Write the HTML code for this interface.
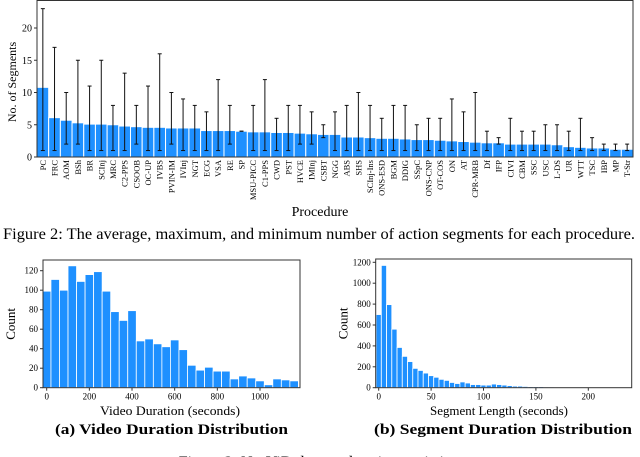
<!DOCTYPE html>
<html><head><meta charset="utf-8"><style>
html,body{margin:0;padding:0;background:#fff;}
svg{display:block;font-family:"Liberation Serif",serif;}
</style></head><body>
<svg id="fig" width="640" height="457" viewBox="0 0 640 457">
<g id="top"></g>
<text x="320" y="216" font-size="14" text-anchor="middle">Procedure</text>
<text x="3" y="239" font-size="16" textLength="632" lengthAdjust="spacingAndGlyphs">Figure 2: The average, maximum, and minimum number of action segments for each procedure.</text>
<g id="bl"></g>
<g id="br"></g>
<text x="100" y="415" font-size="13" textLength="140" lengthAdjust="spacingAndGlyphs">Video Duration (seconds)</text>
<text x="55" y="434" font-size="14.5" font-weight="bold" textLength="233" lengthAdjust="spacingAndGlyphs">(a) Video Duration Distribution</text>
<text x="430" y="415" font-size="13" textLength="138" lengthAdjust="spacingAndGlyphs">Segment Length (seconds)</text>
<text x="374" y="434" font-size="14.5" font-weight="bold" textLength="258" lengthAdjust="spacingAndGlyphs">(b) Segment Duration Distribution</text>
<text x="320" y="467" font-size="16" text-anchor="middle">Figure 3: NurViD dataset duration statistics.</text>
</svg>
<script>
const procedures=["PC","FRC","AOM","BSh","BR","SCInj","MRC","C2-PPS","CSOOB","OC-UP","IVBS","PVIN-IM","IVInj","NGT","ECG","VSA","RE","SP","MSU-PICC","C1-PPS","CWD","PST","HVCE","IMInj","CSBT","NGG","ABS","SHS","SCInj-Ins","ONS-ESD","BGM","DDIG","SSpC","ONS-CNP","OT-COS","ON","AT","CPR-MRB","Df","IFP","CIVI","CBM","SSC","USC","L-DS","UR","WTT","TSC","IBP","MP","T-Str"];
const meanSegments=[10.8,6.1,5.7,5.3,5.1,5.1,5.0,4.8,4.7,4.6,4.6,4.5,4.5,4.5,4.1,4.1,4.1,4.0,3.9,3.9,3.8,3.8,3.7,3.6,3.5,3.5,3.1,3.1,3.0,2.9,2.9,2.8,2.7,2.7,2.6,2.5,2.4,2.3,2.2,2.2,2.0,2.0,2.0,2.0,1.9,1.6,1.5,1.4,1.4,1.2,1.2];
const maxSegments=[23,17,10,15,11,15,8,13,8,11,16,10,9,8,7,12,8,4,8,12,6,8,8,7,5,7,8,10,8,6,8,8,5,6,6,9,7,10,4,3,6,4,4,5,5,4,6,3,2,2,2];
const minSegments=[1,1,2,2,1,1,1,1,2,1,1,2,1,1,1,1,2,4,1,1,1,1,2,2,3,1,1,1,1,1,1,1,1,1,1,1,1,1,1,2,1,1,1,1,1,1,1,1,1,1,1];
const topTicks=[0,5,10,15,20];
const videoBins=[0,40,80,120,160,200,240,280,320,360,400,440,480,520,560,600,640,680,720,760,800,840,880,920,960,1000,1040,1080,1120,1160];
const videoCounts=[99,111,100,125,109,116,119,99,78,69,79,48,50,45,42,49,39,23,18,21,17,17,9,12,10,7,3,9,8,7];
const videoXTicks=[0,200,400,600,800,1000];
const videoYTicks=[0,20,40,60,80,100,120];
const segBinWidth=5;
const segCounts=[700,1170,795,560,385,300,250,185,165,140,115,100,80,70,50,40,55,45,30,30,25,25,35,30,25,20,15,15,12,10,10,10,8,8,6,5,4,4,3,3,5,3,2,6,5,3,3,4];
const segXTicks=[0,50,100,150,200];
const segYTicks=[0,200,400,600,800,1000,1200];

const NS="http://www.w3.org/2000/svg";
function mk(parent,tag,attrs,txt){const e=document.createElementNS(NS,tag);for(const k in attrs)e.setAttribute(k,attrs[k]);if(txt!==undefined)e.textContent=txt;parent.appendChild(e);return e;}
const BLUE="#1e90ff";

(function(){
const g=document.getElementById('top');
const L=37,R=633,T=0.5,B=157;
const band=(R-L)/procedures.length;
const x=i=>L+band*(i+0.5);
const y=v=>B-v*(B-28)/20;
procedures.forEach((p,i)=>{
  const b=mk(g,'rect',{x:x(i)-band*0.5,y:y(meanSegments[i]),width:band,height:B-y(meanSegments[i]),fill:BLUE,stroke:'#fff','stroke-width':1});
  
  
  const e=mk(g,'g',{stroke:'#111','stroke-width':1});
  
  
  mk(e,'line',{x1:x(i),x2:x(i),y1:y(maxSegments[i]),y2:y(minSegments[i])});
  mk(e,'line',{x1:x(i)-2,x2:x(i)+2,y1:y(maxSegments[i]),y2:y(maxSegments[i])});
  mk(e,'line',{x1:x(i)-2,x2:x(i)+2,y1:y(minSegments[i]),y2:y(minSegments[i])});
  const t=mk(g,'text',{x:0,y:0,'font-size':8.5,'text-anchor':'end',transform:`translate(${x(i)+3},${B+3}) rotate(-90)`},p);
  
  
});
mk(g,'rect',{x:L,y:T,width:R-L,height:B-T,fill:'none',stroke:'#333','stroke-width':1});
topTicks.forEach(v=>{
  mk(g,'line',{x1:L-3,x2:L,y1:y(v),y2:y(v),stroke:'#333'});
  const t=mk(g,'text',{x:L-5,y:y(v)+3.5,'font-size':10,'text-anchor':'end'},v);
  
  
});
const yt=mk(g,'text',{x:0,y:0,'font-size':12,'text-anchor':'middle',transform:'translate(16,82) rotate(-90)'},'No. of Segments');


})();

function hist(id,L,R,T,B,xmin,xmax,ymax,centers,counts,width,xticks,yticks){
  const g=document.getElementById(id);
  const x=v=>L+(v-xmin)/(xmax-xmin)*(R-L);
  const y=v=>B-v/ymax*(B-T);
  counts.forEach((c,i)=>{
    const r=mk(g,'rect',{x:x(centers[i]-width/2),y:y(c),width:x(width)-x(0),height:B-y(c),fill:BLUE,stroke:'#fff','stroke-width':0.8});
    
    
  });
  mk(g,'rect',{x:L,y:T,width:R-L,height:B-T,fill:'none',stroke:'#333','stroke-width':1});
  xticks.forEach(v=>{
    mk(g,'line',{x1:x(v),x2:x(v),y1:B,y2:B+3,stroke:'#333'});
    const t=mk(g,'text',{x:x(v),y:B+12,'font-size':9,'text-anchor':'middle'},v);
    
    
  });
  yticks.forEach(v=>{
    mk(g,'line',{x1:L-3,x2:L,y1:y(v),y2:y(v),stroke:'#333'});
    const t=mk(g,'text',{x:L-5,y:y(v)+3,'font-size':9,'text-anchor':'end'},v);
    
    
  });
  const yt=mk(g,'text',{x:0,y:0,'font-size':13,'text-anchor':'middle',transform:`translate(${L-28},${(T+B)/2}) rotate(-90)`},'Count');
  
  
}
hist('bl',43,300,260,387.7,-17.3,1187.5,(387.7-260)/0.975,videoBins,videoCounts,40,videoXTicks,videoYTicks);
const segCenters=segCounts.map((_,i)=>i*segBinWidth);
hist('br',375.7,631.7,259,387.7,-2.86,241.4,(387.7-259)/0.1045,segCenters,segCounts,segBinWidth,segXTicks,segYTicks);
</script>
</body></html>
